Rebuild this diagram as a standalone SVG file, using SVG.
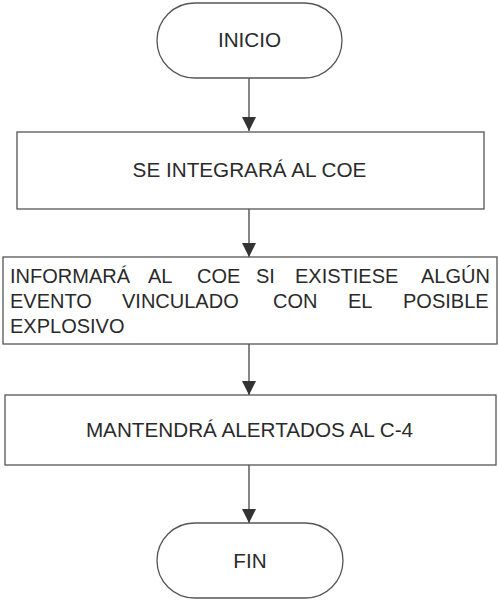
<svg xmlns="http://www.w3.org/2000/svg" width="498" height="600" viewBox="0 0 498 600">
<style>
.shape{fill:#fff;stroke:#555;stroke-width:1.3}
.t{font-family:"Liberation Sans",Arial,sans-serif;font-size:20.7px;fill:#2a2a2a}
.j{font-size:20px}
.c{text-anchor:middle}
.conn{stroke:#444;stroke-width:1.3;fill:none;marker-end:url(#arr)}
</style>
<defs>
<marker id="arr" markerUnits="userSpaceOnUse" markerWidth="14" markerHeight="14" viewBox="0 0 14 14" refX="14" refY="7" orient="auto">
<path d="M0,0 L14,7 L0,14 Z" fill="#333"/>
</marker>
</defs>
<rect width="498" height="600" fill="#fff"/>
<g id="connectors">
<line class="conn" x1="249" y1="78" x2="249" y2="131"/>
<line class="conn" x1="249" y1="209" x2="249" y2="257"/>
<line class="conn" x1="249" y1="344" x2="249" y2="395"/>
<line class="conn" x1="249" y1="465" x2="249" y2="523"/>
</g>
<g id="inicio">
<rect class="shape" x="157" y="3" width="185" height="75" rx="37.5"/>
<text class="t c" x="249.5" y="47">INICIO</text>
</g>
<g id="integrar">
<rect class="shape" x="17" y="132" width="467" height="77"/>
<text class="t c" x="249.5" y="177.3">SE INTEGRARÁ AL COE</text>
</g>
<g id="informar">
<rect class="shape" x="3" y="257" width="494" height="87"/>
<text class="t j" y="282.5"><tspan x="10">INFORMARÁ</tspan><tspan x="148">AL</tspan><tspan x="197">COE</tspan><tspan x="256">SI</tspan><tspan x="295">EXISTIESE</tspan><tspan x="421">ALGÚN</tspan></text>
<text class="t j" y="307.5"><tspan x="10">EVENTO</tspan><tspan x="122">VINCULADO</tspan><tspan x="273">CON</tspan><tspan x="348">EL</tspan><tspan x="403">POSIBLE</tspan></text>
<text class="t j" x="10" y="332.5">EXPLOSIVO</text>
</g>
<g id="mantener">
<rect class="shape" x="5" y="395" width="491" height="70"/>
<text class="t c" x="249.5" y="437">MANTENDRÁ ALERTADOS AL C-4</text>
</g>
<g id="fin">
<rect class="shape" x="157" y="523" width="186" height="75" rx="37.5"/>
<text class="t c" x="250" y="568">FIN</text>
</g>
</svg>
